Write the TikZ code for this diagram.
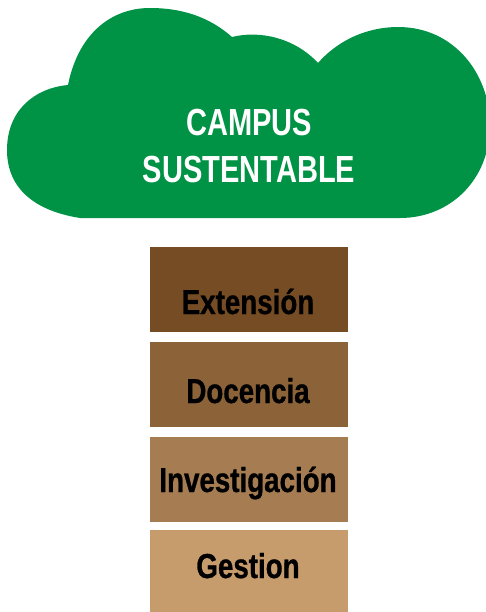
\documentclass[tikz,border=0pt]{standalone}
\usepackage{fontspec}
\newfontfamily\cloudfont[FakeStretch=0.77]{Liberation Sans}
\newfontfamily\boxfont[FakeStretch=0.8,FakeBold=0.8]{Liberation Sans}
\definecolor{cloudgreen}{RGB}{0,146,69}
\definecolor{brownA}{RGB}{117,76,36}
\definecolor{brownB}{RGB}{140,98,57}
\definecolor{brownC}{RGB}{166,124,82}
\definecolor{brownD}{RGB}{198,156,109}
\begin{document}
\begin{tikzpicture}[x=0.75pt,y=-0.75pt,
  layer/.style={draw=none,minimum width=148.5pt,minimum height=63.75pt,inner sep=0pt,anchor=north west},
  layertext/.style={anchor=base,inner sep=0pt,font=\boxfont\bfseries\fontsize{26}{30}\selectfont,text=black},
  cloudtext/.style={anchor=base,inner sep=0pt,font=\cloudfont\bfseries\fontsize{28.3}{32}\selectfont,text=white}]
\useasboundingbox (0,0) rectangle (486,612);
\begin{scope}
\clip (0,0) rectangle (486,612);
\fill[cloudgreen] (80,218) .. controls (30,210) and (7,185) .. (7,150)
  .. controls (7,110) and (35,88) .. (68,85)
  .. controls (78,35) and (110,8) .. (150,8)
  .. controls (190,8) and (215,22) .. (232,37)
  .. controls (260,30) and (295,38) .. (318,63)
  .. controls (340,38) and (370,27) .. (398,27)
  .. controls (455,27) and (490,75) .. (490,125)
  .. controls (490,180) and (450,218) .. (400,218) -- cycle;
\end{scope}
\node[cloudtext] (campus) at (249,135) {CAMPUS};
\node[cloudtext] (sust) at (249,182) {SUSTENTABLE};
\node[layer,fill=brownA] (b1) at (150,247) {};
\node[layer,fill=brownB] (b2) at (150,342) {};
\node[layer,fill=brownC] (b3) at (150,437) {};
\node[layer,fill=brownD,minimum height=61.5pt] (b4) at (150,530) {};
\node[layertext] (t1) at (248,314) {Extensión};
\node[layertext] (t2) at (248,403) {Docencia};
\node[layertext] (t3) at (248,492) {Investigación};
\node[layertext] (t4) at (248,578) {Gestion};
\end{tikzpicture}
\end{document}
